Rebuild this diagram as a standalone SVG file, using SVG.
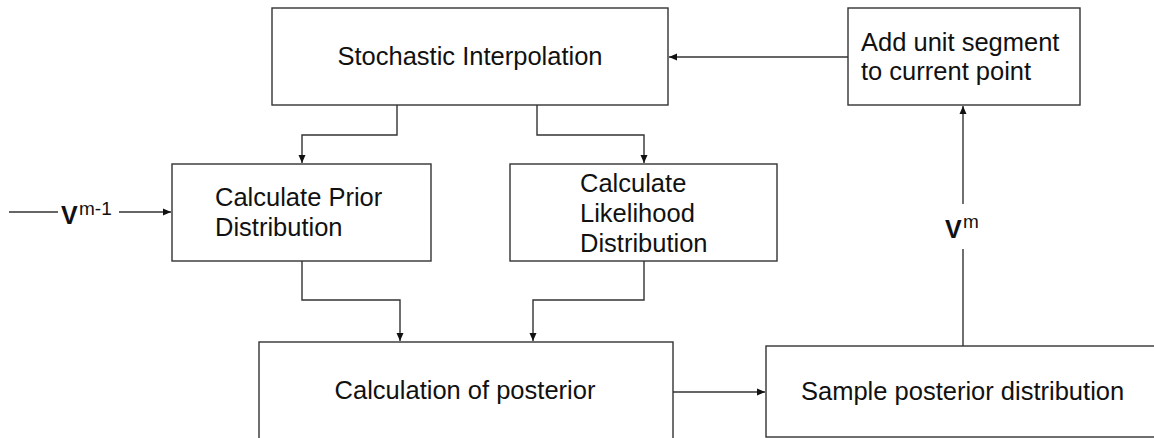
<svg xmlns="http://www.w3.org/2000/svg" width="1154" height="438" viewBox="0 0 1154 438">
<style>
.box{fill:#fff;stroke:#333;stroke-width:1.4}
.t{font-family:"Liberation Sans",Arial,sans-serif;font-size:25.5px;fill:#111}
.c{fill:none;stroke:#333;stroke-width:1.4;marker-end:url(#ah)}
.l{fill:none;stroke:#333;stroke-width:1.4}
.v{font-family:"Liberation Sans",Arial,sans-serif;font-weight:bold;font-size:25px;fill:#111}
.s{font-family:"Liberation Sans",Arial,sans-serif;font-size:19px;fill:#111}
</style>
<defs>
<marker id="ah" markerWidth="9" markerHeight="9" refX="8" refY="4.5" orient="auto" markerUnits="userSpaceOnUse">
<path d="M0,1 L8,4.5 L0,8 Z" fill="#111"/>
</marker>
</defs>
<rect width="1154" height="438" fill="#fff"/>
<g id="connectors">
<path class="c" d="M397,105 V135 H302 V163"/>
<path class="c" d="M537,105 V135 H644 V163"/>
<path class="l" d="M9,212 H58"/>
<path class="c" d="M119,212 H171"/>
<path class="c" d="M302,261 V300 H400 V341"/>
<path class="c" d="M644,261 V300 H533 V341"/>
<path class="c" d="M673,392 H765"/>
<path class="l" d="M963,346 V249"/>
<path class="c" d="M963,204 V106"/>
<path class="c" d="M848,57 H669"/>
<text class="v" x="61" y="224">V</text><text class="s" x="79" y="215">m-1</text>
<text class="v" x="945" y="238">V</text><text class="s" x="963" y="228">m</text>
</g>
<g id="stochastic">
<rect class="box" x="272" y="8" width="396" height="97"/>
<text class="t" x="470" y="65" text-anchor="middle">Stochastic Interpolation</text>
</g>
<g id="addunit">
<rect class="box" x="848" y="8" width="232" height="97"/>
<text class="t" x="861" y="51">Add unit segment</text>
<text class="t" x="861" y="80">to current point</text>
</g>
<g id="prior">
<rect class="box" x="172" y="164" width="259" height="97"/>
<text class="t" x="215" y="206">Calculate Prior</text>
<text class="t" x="215" y="236">Distribution</text>
</g>
<g id="likelihood">
<rect class="box" x="510" y="164" width="267" height="97"/>
<text class="t" x="580" y="192">Calculate</text>
<text class="t" x="580" y="222">Likelihood</text>
<text class="t" x="580" y="252">Distribution</text>
</g>
<g id="posterior">
<rect class="box" x="259" y="342" width="414" height="130"/>
<text class="t" x="465" y="399" text-anchor="middle">Calculation of posterior</text>
</g>
<g id="sample">
<rect class="box" x="766" y="346" width="420" height="91"/>
<text class="t" x="801" y="400">Sample posterior distribution</text>
</g>
</svg>
